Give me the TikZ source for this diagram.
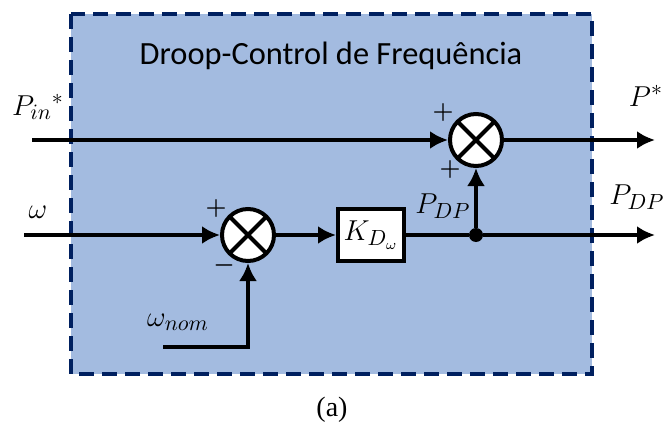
\documentclass[tikz,border=0pt]{standalone}
\usepackage{fontspec}
\usepackage{amsmath}
\newfontfamily\titlefont{Carlito}
\newfontfamily\capfont{Liberation Serif}
\usetikzlibrary{arrows.meta,positioning}
\definecolor{boxfill}{HTML}{A3BBE0}
\definecolor{boxline}{HTML}{002060}

\begin{document}
\begin{tikzpicture}[x=0.5pt, y=-0.5pt, every node/.style={font=\fontsize{15}{17}\selectfont}]
  \tikzset{sum/.style={circle, draw=black, line width=2pt, fill=white, minimum size=26pt, inner sep=0pt, path picture={\draw[line width=2pt] (path picture bounding box.north west) -- (path picture bounding box.south east) (path picture bounding box.north east) -- (path picture bounding box.south west);}}, block/.style={rectangle, draw=black, line width=2pt, fill=white, minimum width=33pt, minimum height=26pt, inner sep=0pt}, dot/.style={circle, fill=black, minimum size=7pt, inner sep=0pt}, sign/.style={font=\fontsize{13}{15}\selectfont\boldmath}, wire/.style={line width=2pt}, arr/.style={-{Latex[length=9pt, width=9pt]}, line width=2pt}}
  \useasboundingbox (0,0) rectangle (665,423);
  \draw[boxline, fill=boxfill, line width=2pt, dash pattern=on 7.5pt off 4pt] (71,14) rectangle (592,374);
  \node[font=\titlefont\fontsize{16.2}{18}\selectfont] (title) at (331,56) {Droop-Control de Frequência};
  \node[sum] (sumw) at (248,235) {};
  \node[sum] (sump) at (476,140) {};
  \node[block] (kd) at (371,235) {$K_{D_{\textstyle\scriptscriptstyle\omega}}$};
  \node[dot] (split) at (sump |- kd) {};
  \coordinate (pinstart) at (32,140);
  \coordinate (wstart) at (24,235);
  \coordinate (wnomstart) at (163,347);
  \coordinate (pout) at (655,140);
  \coordinate (pdpout) at (655,235);
  \draw[arr] (pinstart) -- (sump);
  \draw[arr] (wstart) -- (sumw);
  \draw[arr] (sumw) -- (kd);
  \draw[wire] (kd) -- (split);
  \draw[arr] (split) -- (pdpout);
  \draw[arr] (split) -- (sump);
  \draw[arr] (sump) -- (pout);
  \draw[arr] (wnomstart) -| (sumw);
  % labels
  \node (pinlbl) at (38,107) {$P_{in}{}^{*}$};
  \node (wlbl) at (38,212) {$\omega$};
  \node (wnomlbl) at (178,322) {$\omega_{nom}$};
  \node (pdplbl) at (443,206) {$P_{DP}$};
  \node (pdplblout) at (637,197) {$P_{DP}$};
  \node (pstar) at (646,96) {$P^{*}$};
  \node[sign] (s1) at (216,208) {$+$};
  \node[sign] (s2) at (224,265) {$-$};
  \node[sign] (s3) at (443,112) {$+$};
  \node[sign] (s4) at (450,169) {$+$};
  \node[font=\capfont\fontsize{14}{16}\selectfont] (caption) at (332,410) {(a)};
\end{tikzpicture}
\end{document}
